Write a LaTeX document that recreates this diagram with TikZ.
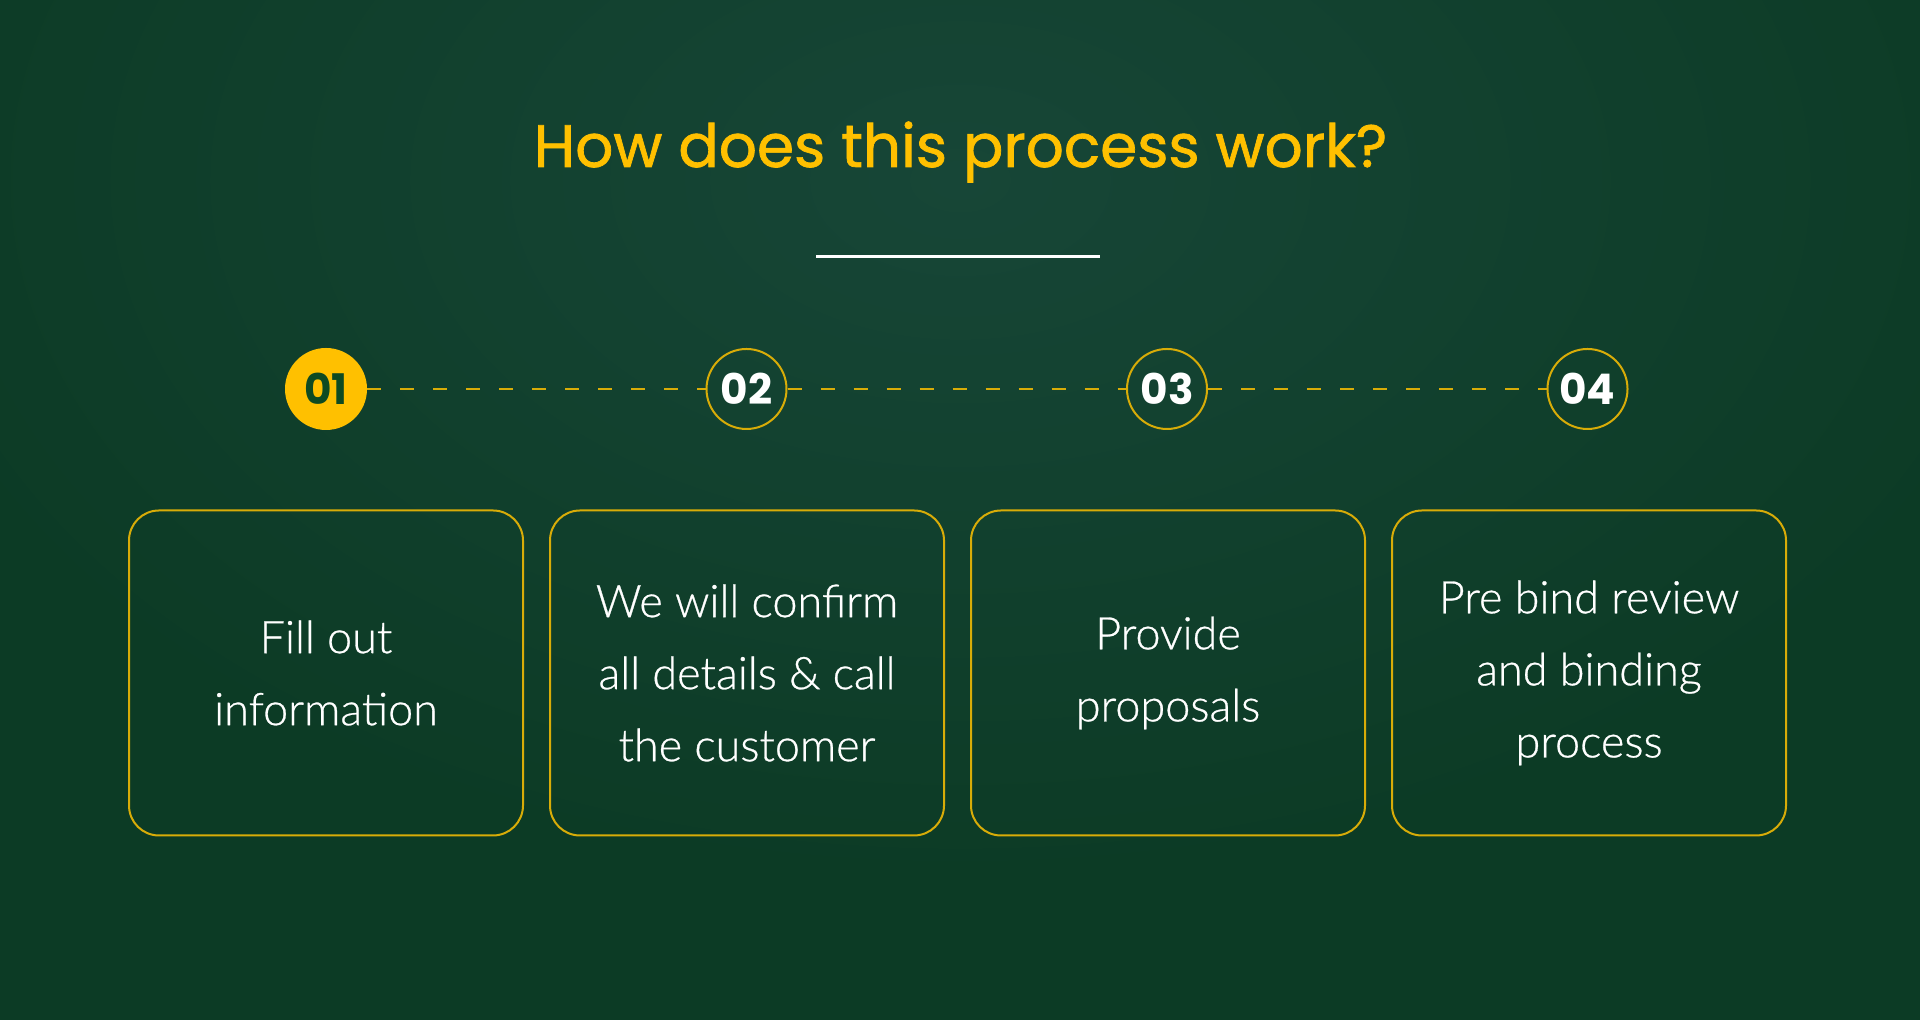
\documentclass[tikz,border=0pt]{standalone}
\usepackage{fontspec}
\setmainfont{Lato}
\newfontfamily\cardfont{Lato Light}[FakeBold=0.6]
\newfontfamily\titlefont{Poppins}[FakeBold=1.2]
\newfontfamily\numfont{Poppins}
\usepackage{xcolor}
\definecolor{BoardGreen}{HTML}{0C3B25}
\definecolor{BoardLight}{HTML}{174637}
\definecolor{Gold}{HTML}{FFC000}
\definecolor{GoldLine}{HTML}{D8AC08}
\definecolor{LeafGreen}{HTML}{0E4A22}
\usetikzlibrary{calc}

\begin{document}
\begin{tikzpicture}[
    stepdot/.style={circle, draw=GoldLine, line width=0.2mm, minimum size=8mm, inner sep=0pt,
      text=white, font=\numfont\bfseries\fontsize{12}{12}\selectfont},
    card/.style={draw=GoldLine, line width=0.2mm, rounded corners=3mm, minimum width=39.4mm,
      minimum height=32.5mm, inner sep=0pt, align=center, text=white,
      font=\cardfont\fontsize{12.8}{20.5}\selectfont},
    link/.style={GoldLine, line width=0.2mm, dash pattern=on 1.4mm off 1.9mm}
  ]
    \useasboundingbox (0,0) rectangle (19.2,10.2);
    \fill[BoardGreen] (0,0) rectangle (19.2,10.2);
    \begin{scope}
      \clip (0,0) rectangle (19.2,10.2);
      \shade[inner color=BoardLight, outer color=BoardGreen] (9.6,8.4) ellipse (11 and 7);
    \end{scope}
    \node[text=Gold, font=\titlefont\fontsize{17}{17}\selectfont, anchor=base] (title) at (9.605,8.53) {How does this process work?};
    \node[fill=white, minimum width=28.4mm, minimum height=0.3mm, inner sep=0pt] (rule) at (9.58,7.63) {};
    \node[stepdot, fill=Gold, draw=Gold, text=LeafGreen] (s1) at (3.26,6.31) {01};
    \node[stepdot] (s2) at (7.465,6.31) {02};
    \node[stepdot] (s3) at (11.67,6.31) {03};
    \node[stepdot] (s4) at (15.875,6.31) {04};
    \draw[link] (s1) -- (s2);
    \draw[link] (s2) -- (s3);
    \draw[link] (s3) -- (s4);
    \node[card] (c1) at (3.26,3.47) {Fill out\\information};
    \node[card] (c2) at (7.47,3.47) {We will confirm\\all details \& call\\the customer};
    \node[card] (c3) at (11.68,3.47) {Provide\\proposals};
    \node[card] (c4) at (15.89,3.47) {Pre bind review\\and binding\\process};
\end{tikzpicture}
\end{document}
